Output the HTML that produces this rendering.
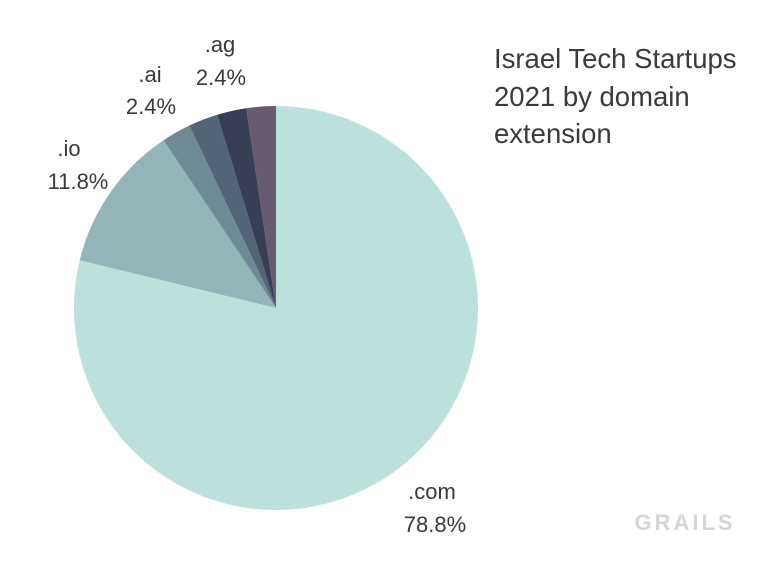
<!DOCTYPE html>
<html><head><meta charset="utf-8"><style>
body{margin:0;background:#fff;}
svg text{font-family:"Liberation Sans","DejaVu Sans",sans-serif;fill:#3a3a3a;}
</style></head><body>
<svg width="768" height="569" viewBox="0 0 768 569" xmlns="http://www.w3.org/2000/svg">
<rect width="768" height="569" fill="#fff"/>
<path d="M276,308 L276,106 A202,202 0 1,1 79.7,260.2 Z" fill="#bce0dc"/>
<path d="M276,308 L79.7,260.2 A202,202 0 0,1 163.5,140.2 Z" fill="#93b5b8"/>
<path d="M276,308 L163.5,140.2 A202,202 0 0,1 189.4,125.5 Z" fill="#6f8a94"/>
<path d="M276,308 L189.4,125.5 A202,202 0 0,1 217.2,114.7 Z" fill="#526476"/>
<path d="M276,308 L217.2,114.7 A202,202 0 0,1 246.3,108.2 Z" fill="#383f55"/>
<path d="M276,308 L246.3,108.2 A202,202 0 0,1 276,106 Z" fill="#665b70"/>
<g font-size="22">
<text x="220" y="52" text-anchor="middle">.ag</text>
<text x="221" y="85" text-anchor="middle">2.4%</text>
<text x="150" y="82" text-anchor="middle">.ai</text>
<text x="151" y="114" text-anchor="middle">2.4%</text>
<text x="69" y="156" text-anchor="middle">.io</text>
<text x="78" y="189" text-anchor="middle">11.8%</text>
<text x="432" y="499" text-anchor="middle">.com</text>
<text x="435" y="532" text-anchor="middle">78.8%</text>
</g>
<g font-size="27.5">
<text x="494" y="68">Israel Tech Startups</text>
<text x="494" y="106">2021 by domain</text>
<text x="494" y="143">extension</text>
</g>
<text x="685" y="530" text-anchor="middle" font-size="22" font-weight="bold" style="fill:#d6d6d6;letter-spacing:3px">GRAILS</text>
</svg>
</body></html>
